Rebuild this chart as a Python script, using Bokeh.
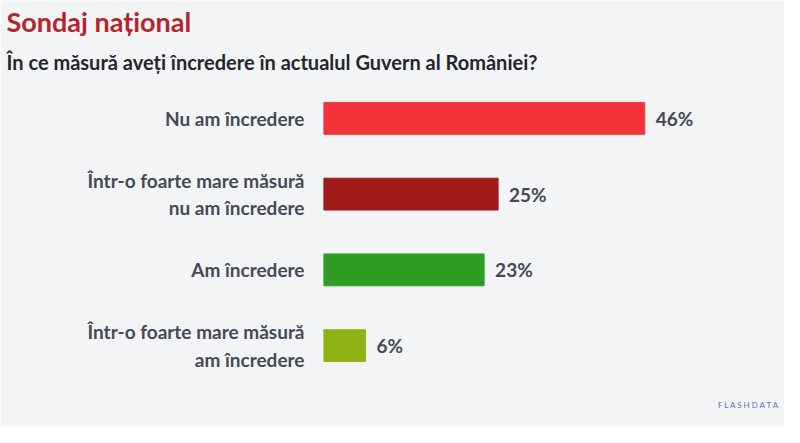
from bokeh.plotting import figure
from bokeh.models import ColumnDataSource, FactorRange, Range1d, Title
from bokeh.core.properties import value
from bokeh.embed import file_html
from bokeh.resources import INLINE

title = "Sondaj național"
subtitle = "În ce măsură aveți încredere în actualul Guvern al României?"
categories = [
    "Nu am încredere",
    "Într-o foarte mare măsură\nnu am încredere",
    "Am încredere",
    "Într-o foarte mare măsură\nam încredere",
]
values = [46, 25, 23, 6]
colors = ["#f3333b", "#a11a1a", "#2f9c23", "#8fb315"]
value_labels = [f"{v}%" for v in values]
logo_text = "F L A S H D A T A"

FONT = "Lato"
TEXT_COLOR = "#434b57"
BG = "#f3f4f6"

source = ColumnDataSource(dict(cat=categories, val=values, color=colors, lab=value_labels))

p = figure(
    width=784, height=427,
    y_range=FactorRange(factors=list(reversed(categories))),
    x_range=Range1d(0, 60),
    x_axis_location=None,
    output_backend="svg", toolbar_location=None,
    min_border_left=323, min_border_right=42, min_border_top=80, min_border_bottom=43,
    background_fill_color=BG, border_fill_color=BG, outline_line_color=None,
)
p.grid.visible = False

p.hbar(y="cat", right="val", left=0, height=0.42, color="color", source=source)
p.text(x="val", y="cat", text="lab", source=source, x_offset=11,
       text_baseline="middle", text_align="left",
       text_font=value(FONT), text_font_style="bold", text_font_size="19px",
       text_color=TEXT_COLOR)

ax = p.yaxis[0]
ax.axis_line_color = None
ax.major_tick_line_color = None
ax.minor_tick_line_color = None
ax.major_label_standoff = 13
ax.major_label_text_font = FONT
ax.major_label_text_font_style = "bold"
ax.major_label_text_font_size = "19px"
ax.major_label_text_color = TEXT_COLOR

p.add_layout(Title(text=subtitle, align="left", offset=-317, standoff=14,
                   text_font=FONT, text_font_style="bold", text_font_size="20px",
                   text_color="#23272d"), "above")
p.add_layout(Title(text=title, align="left", offset=-317, standoff=5,
                   text_font=FONT, text_font_style="bold", text_font_size="27px",
                   text_color="#b3262c"), "above")

p.add_layout(Title(text=logo_text, align="right", offset=-38, standoff=32,
                   vertical_align="top",
                   text_font=FONT, text_font_style="normal", text_font_size="8px",
                   text_color="#5a72b0"), "below")

open("out.html", "w").write(file_html(p, INLINE))
